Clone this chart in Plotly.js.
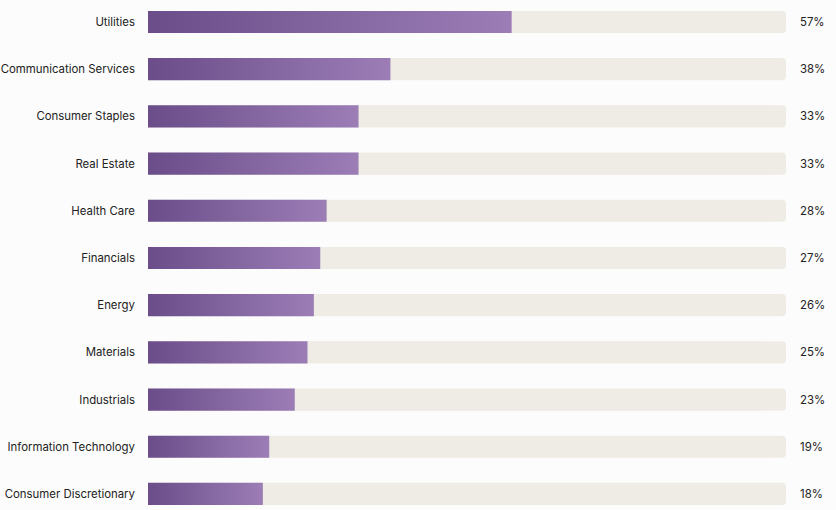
<!DOCTYPE html>
<html>
<head>
<meta charset="utf-8">
<script src="https://cdn.plot.ly/plotly-3.0.1.min.js"></script>
<style>
  html, body { margin: 0; padding: 0; background: #fcfcfc; }
  #chart { width: 836px; height: 510px; }
</style>
</head>
<body>
<div id="chart"></div>
<script>
// sectors, top to bottom
let sectors = [
  "Utilities", "Communication Services", "Consumer Staples", "Real Estate",
  "Health Care", "Financials", "Energy", "Materials", "Industrials",
  "Information Technology", "Consumer Discretionary"
];
let shares = [57, 38, 33, 33, 28, 27, 26, 25, 23, 19, 18];
let fullScale = sectors.map(() => 100);

let fontFamily = "Inter, 'Noto Sans', sans-serif";

// beige track behind each bar
let track = {
  type: 'bar',
  orientation: 'h',
  y: sectors,
  x: fullScale,
  width: 0.47,
  marker: { color: '#efebe5', cornerradius: 4 },
  hoverinfo: 'skip'
};

// purple value bars (gradient applied after render)
let values = {
  type: 'bar',
  orientation: 'h',
  y: sectors,
  x: shares,
  width: 0.47,
  marker: { color: '#8466a0', cornerradius: 4 },
  hovertemplate: '%{y}: %{x}%<extra></extra>'
};

let labels = sectors.map((s, i) => ({
  x: 100, y: s, xref: 'x', yref: 'y',
  text: shares[i] + '%',
  showarrow: false,
  xanchor: 'left',
  xshift: 12,
  font: { family: fontFamily, size: 11.4, color: '#222' }
}));

let layout = {
  width: 836,
  height: 510,
  margin: { l: 148, r: 50, t: 0, b: 0 },
  paper_bgcolor: '#fcfcfc',
  plot_bgcolor: '#fcfcfc',
  barmode: 'overlay',
  showlegend: false,
  xaxis: { range: [0, 100], visible: false, fixedrange: true },
  yaxis: {
    type: 'category',
    range: [10.34, -0.466],
    showgrid: false,
    zeroline: false,
    showline: false,
    ticks: '',
    ticklabelstandoff: 12,
    tickfont: { family: fontFamily, size: 11.4, color: '#222' },
    fixedrange: true
  },
  annotations: labels
};

function applyGradient(gd) {
  let svg = gd.querySelector('svg.main-svg');
  if (!svg.querySelector('#barGrad')) {
    let ns = 'http://www.w3.org/2000/svg';
    let defs = svg.querySelector('defs') || svg.insertBefore(document.createElementNS(ns, 'defs'), svg.firstChild);
    let grad = document.createElementNS(ns, 'linearGradient');
    grad.setAttribute('id', 'barGrad');
    grad.setAttribute('x1', '0'); grad.setAttribute('y1', '0');
    grad.setAttribute('x2', '1'); grad.setAttribute('y2', '0');
    [['0%', '#6a4d89'], ['100%', '#9c7db6']].forEach(([off, col]) => {
      let stop = document.createElementNS(ns, 'stop');
      stop.setAttribute('offset', off);
      stop.setAttribute('stop-color', col);
      grad.appendChild(stop);
    });
    defs.appendChild(grad);
  }
  let traces = gd.querySelectorAll('.barlayer .trace.bars');
  if (traces.length > 1) {
    traces[1].querySelectorAll('.point path').forEach(p => {
      p.style.fill = 'url(#barGrad)';
    });
  }
}

Plotly.newPlot('chart', [track, values], layout, { displayModeBar: false }).then(gd => {
  applyGradient(gd);
  gd.on('plotly_afterplot', () => applyGradient(gd));
});
</script>
</body>
</html>
